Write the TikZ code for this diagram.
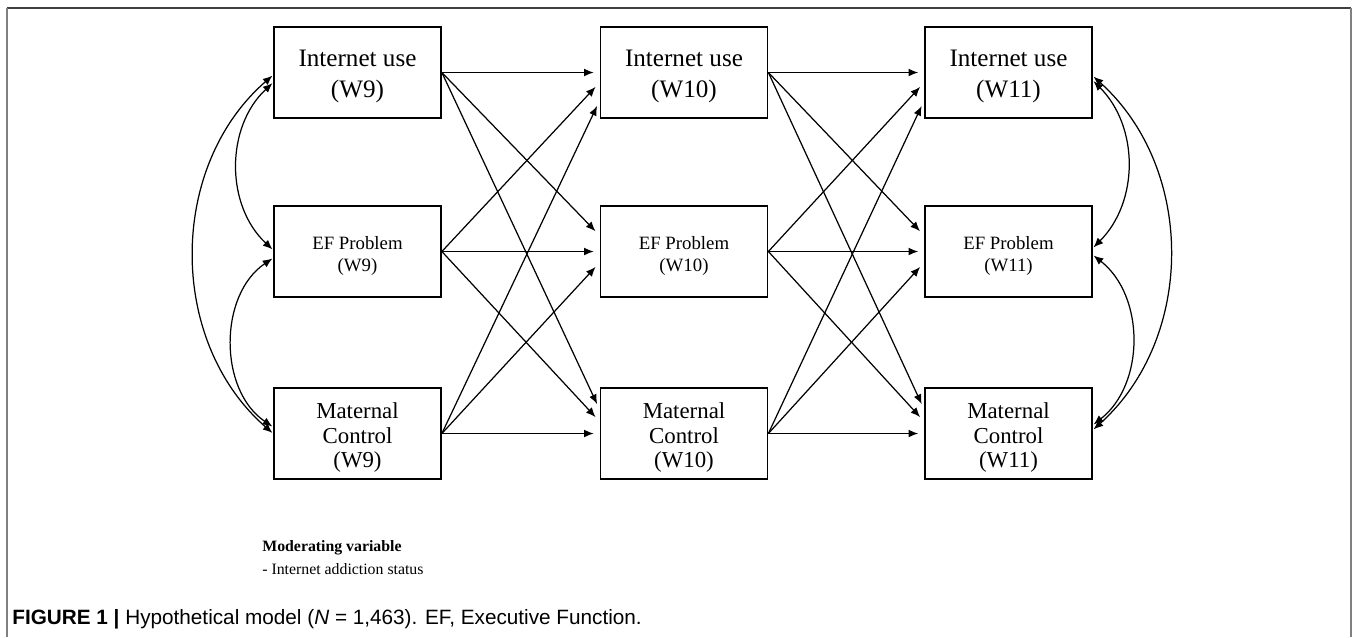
\documentclass[tikz,border=0pt]{standalone}
\usepackage{fontspec}
\setmainfont{Liberation Serif}
\setsansfont{Liberation Sans}
\usetikzlibrary{calc,positioning,arrows.meta}

\tikzset{
  box/.style={draw, line width=1pt, minimum width=3.34cm, minimum height=1.82cm, inner sep=0pt},
  txt/.style={align=center, yshift=-0.08cm, inner sep=0pt},
  iutxt/.style={txt, font=\fontsize{14.3}{18}\selectfont},
  eftxt/.style={txt, font=\fontsize{10.7}{12.5}\selectfont},
  mctxt/.style={txt, font=\fontsize{13}{14.2}\selectfont},
  path/.style={line width=0.7pt, -{Latex[length=5.5pt,width=4.5pt]}, shorten >=3.4pt},
  cov/.style={line width=0.7pt, {Latex[length=5.5pt,width=4.5pt]}-{Latex[length=5.5pt,width=4.5pt]}, shorten >=0.5pt, shorten <=0.5pt},
  frame/.style={line width=1.1pt}
}

\begin{document}
\begin{tikzpicture}[x=0.02cm,y=0.02cm]
		%%%%% START %%%%%
		\useasboundingbox (0,0) rectangle (1358,-637);
		
		% frame
		\draw[frame, black!75] (7,-8) -- (1351,-8);
		\draw[frame, black!50] (7,-8) -- (7,-637);
		\draw[frame, black!50] (1351,-8) -- (1351,-637);
		
		% wave 9
		\node[box] (iu9) at (357.5,-72.5) {};
		\node[box] (ef9) at (357.5,-251.5) {};
		\node[box] (mc9) at (357.5,-433.5) {};
		\node[iutxt] (iu9t) at (iu9) {Internet use\\(W9)};
		\node[eftxt] (ef9t) at (ef9) {EF Problem\\(W9)};
		\node[mctxt] (mc9t) at (mc9) {Maternal\\Control\\(W9)};
		
		% wave 10
		\node[box] (iu10) at (684,-72.5) {};
		\node[box] (ef10) at (684,-251.5) {};
		\node[box] (mc10) at (684,-433.5) {};
		\node[iutxt] (iu10t) at (iu10) {Internet use\\(W10)};
		\node[eftxt] (ef10t) at (ef10) {EF Problem\\(W10)};
		\node[mctxt] (mc10t) at (mc10) {Maternal\\Control\\(W10)};
		
		% wave 11
		\node[box] (iu11) at (1008.5,-72.5) {};
		\node[box] (ef11) at (1008.5,-251.5) {};
		\node[box] (mc11) at (1008.5,-433.5) {};
		\node[iutxt] (iu11t) at (iu11) {Internet use\\(W11)};
		\node[eftxt] (ef11t) at (ef11) {EF Problem\\(W11)};
		\node[mctxt] (mc11t) at (mc11) {Maternal\\Control\\(W11)};
		
		% W9 -> W10
		\draw[path] (iu9.east) -- (iu10.west);
		\draw[path] (iu9.east) -- ($(ef10.west)+(0,16)$);
		\draw[path] (iu9.east) -- ($(mc10.west)+(0,24)$);
		\draw[path] (ef9.east) -- ($(iu10.west)+(0,-10)$);
		\draw[path] (ef9.east) -- (ef10.west);
		\draw[path] (ef9.east) -- ($(mc10.west)+(0,12)$);
		\draw[path] (mc9.east) -- ($(iu10.west)+(0,-28)$);
		\draw[path] (mc9.east) -- ($(ef10.west)+(0,-11)$);
		\draw[path] (mc9.east) -- (mc10.west);
		
		% W10 -> W11
		\draw[path] (iu10.east) -- (iu11.west);
		\draw[path] (iu10.east) -- ($(ef11.west)+(0,16)$);
		\draw[path] (iu10.east) -- ($(mc11.west)+(0,24)$);
		\draw[path] (ef10.east) -- ($(iu11.west)+(0,-10)$);
		\draw[path] (ef10.east) -- (ef11.west);
		\draw[path] (ef10.east) -- ($(mc11.west)+(0,12)$);
		\draw[path] (mc10.east) -- ($(iu11.west)+(0,-28)$);
		\draw[path] (mc10.east) -- ($(ef11.west)+(0,-11)$);
		\draw[path] (mc10.east) -- (mc11.west);
		
		% covariances W9
		\draw[cov] ($(iu9.west)+(0,-10)$) to[bend right=47] ($(ef9.west)+(0,1.5)$);
		\draw[cov] ($(ef9.west)+(0,-6.5)$) to[bend right=56] ($(mc9.west)+(0,6.5)$);
		\draw[cov] ($(iu9.west)+(0,-2.5)$) to[bend right=49] (mc9.west);
		
		% covariances W11
		\draw[cov] ($(iu11.east)+(0,-8)$) to[bend left=45] ($(ef11.east)+(0,3.5)$);
		\draw[cov] ($(ef11.east)+(0,-3.5)$) to[bend left=52] ($(mc11.east)+(0,8.5)$);
		\draw[cov] ($(iu11.east)+(0,-3.5)$) to[bend left=48] ($(mc11.east)+(0,3.5)$);
		
		% moderator
		\node[anchor=west, inner sep=0pt, font=\fontsize{9}{10}\selectfont\bfseries] (modv) at (262,-548) {Moderating variable};
		\node[anchor=west, inner sep=0pt, font=\fontsize{9}{10}\selectfont] (mods) at (262,-569) {- Internet addiction status};
		
		% caption
		\node[anchor=west, inner sep=0pt, font=\sffamily\fontsize{11.8}{14}\selectfont] (cap) at (12,-619) {\textbf{FIGURE 1 |} Hypothetical model (\textit{N} = 1,463). EF, Executive Function.};
		%%%%% END %%%%%
	\end{tikzpicture}
\end{document}
